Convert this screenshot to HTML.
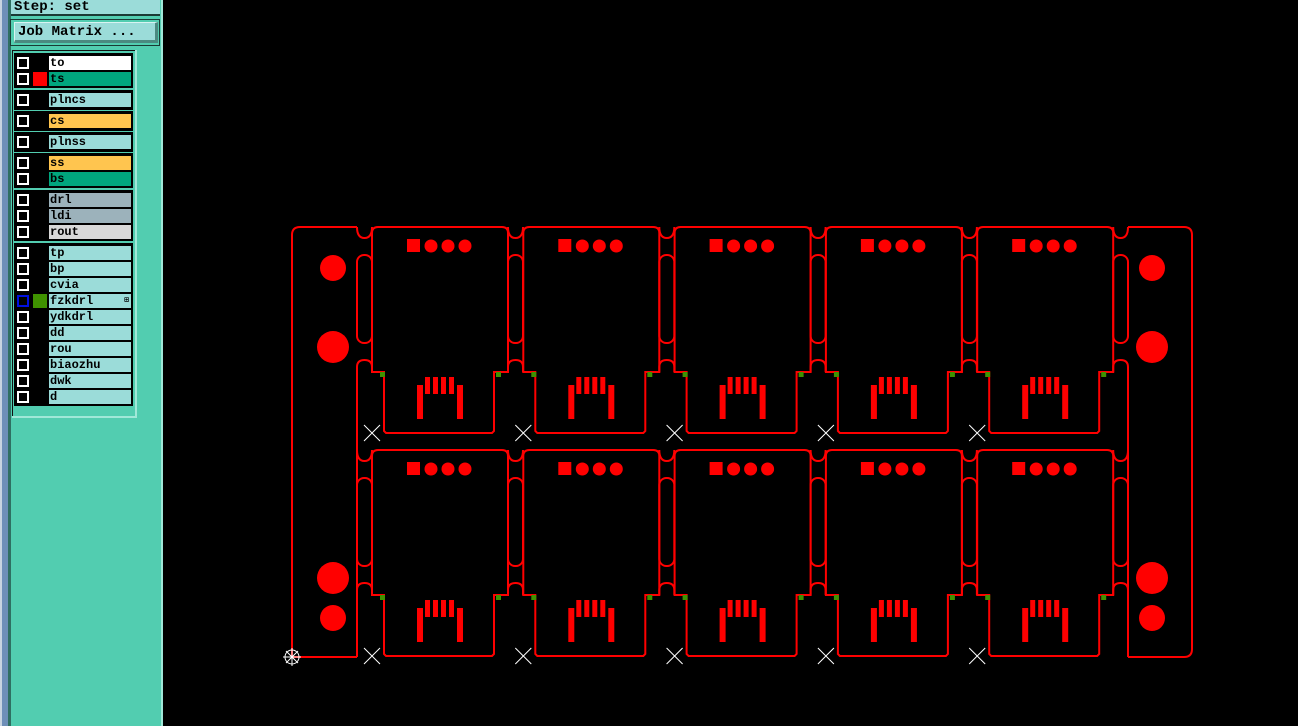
<!DOCTYPE html>
<html><head><meta charset="utf-8"><style>
html,body{margin:0;padding:0;background:#000;width:1298px;height:726px;overflow:hidden;position:relative}
.p{position:absolute}
.txt{font-family:"Liberation Mono",monospace;font-weight:bold;color:#000}
.row{position:absolute;left:15px;width:117px;height:16px;background:#000}
.cb{position:absolute;left:2px;top:2px;width:8px;height:8px;border:2px solid #fff;background:#000}
.sw{position:absolute;left:18px;top:1px;width:14px;height:14px}
.nm{position:absolute;left:34px;top:1px;width:82px;height:14px;background:#9bdcd9;font:bold 12px/14px "Liberation Mono",monospace;padding-left:1px;box-sizing:border-box}
.grp{position:absolute;left:14px;width:119px;background:#000}
</style></head><body>
<!-- left panel -->
<div class="p" style="left:0;top:0;width:10px;height:726px;background:#6e8fb8"></div>
<div class="p" style="left:0;top:0;width:2px;height:726px;background:#c8d4e0"></div>
<div class="p" style="left:8px;top:0;width:3px;height:726px;background:#2f6f62"></div>
<div class="p" style="left:11px;top:0;width:151px;height:726px;background:#52cdb0"></div>
<div class="p" style="left:161px;top:0;width:2px;height:726px;background:#a0e8d8"></div>
<div class="p txt" style="left:11px;top:0;width:149px;height:16px;background:#9bdcd9;border-bottom:2px solid #1a3a34;font-size:14px;line-height:15px;padding-left:3px;box-sizing:border-box">Step: set</div>
<div class="p" style="left:10px;top:19px;width:150px;height:27px;border:1px solid #1a3a34;box-sizing:border-box"></div>
<div class="p txt" style="left:14px;top:22px;width:144px;height:21px;background:#9bdcd9;border-right:3px solid #4a8a80;border-bottom:3px solid #4a8a80;border-top:1px solid #d8f4f2;border-left:1px solid #d8f4f2;box-sizing:border-box;font-size:14px;line-height:18px;padding-left:3px">Job Matrix ...</div>
<div class="p" style="left:12px;top:50px;width:124px;height:367px;border:1px solid #111;box-sizing:border-box;background:#52cdb0"></div>
<div class="p" style="left:135px;top:50px;width:2px;height:367px;background:#a0e8d8"></div>
<div class="p" style="left:12px;top:416px;width:125px;height:2px;background:#a0e8d8"></div>
<div class="grp" style="top:53px;height:35px"></div>
<div class="grp" style="top:90px;height:20px"></div>
<div class="grp" style="top:111px;height:20px"></div>
<div class="grp" style="top:132px;height:20px"></div>
<div class="grp" style="top:153px;height:35px"></div>
<div class="grp" style="top:190px;height:51px"></div>
<div class="grp" style="top:243px;height:163px"></div>

<div class="row" style="top:55px"><div class="cb"></div><div class="nm" style="background:#fff">to</div></div>
<div class="row" style="top:71px"><div class="cb"></div><div class="sw" style="background:#f00"></div><div class="nm" style="background:#00a67e">ts</div></div>
<div class="row" style="top:92px"><div class="cb"></div><div class="nm">plncs</div></div>
<div class="row" style="top:113px"><div class="cb"></div><div class="nm" style="background:#ffc54f">cs</div></div>
<div class="row" style="top:134px"><div class="cb"></div><div class="nm">plnss</div></div>
<div class="row" style="top:155px"><div class="cb"></div><div class="nm" style="background:#ffc54f">ss</div></div>
<div class="row" style="top:171px"><div class="cb"></div><div class="nm" style="background:#00a67e">bs</div></div>
<div class="row" style="top:192px"><div class="cb"></div><div class="nm" style="background:#9cb2bb">drl</div></div>
<div class="row" style="top:208px"><div class="cb"></div><div class="nm" style="background:#9cb2bb">ldi</div></div>
<div class="row" style="top:224px"><div class="cb"></div><div class="nm" style="background:#d8d8d8">rout</div></div>
<div class="row" style="top:245px"><div class="cb"></div><div class="nm">tp</div></div>
<div class="row" style="top:261px"><div class="cb"></div><div class="nm">bp</div></div>
<div class="row" style="top:277px"><div class="cb"></div><div class="nm">cvia</div></div>
<div class="row" style="top:293px"><div class="cb" style="border-color:#0010e0"></div><div class="sw" style="background:#3f9200"></div><div class="nm">fzkdrl<span style="position:absolute;right:2px;top:0;font-size:8px">&#8862;</span></div></div>
<div class="row" style="top:309px"><div class="cb"></div><div class="nm">ydkdrl</div></div>
<div class="row" style="top:325px"><div class="cb"></div><div class="nm">dd</div></div>
<div class="row" style="top:341px"><div class="cb"></div><div class="nm">rou</div></div>
<div class="row" style="top:357px"><div class="cb"></div><div class="nm">biaozhu</div></div>
<div class="row" style="top:373px"><div class="cb"></div><div class="nm">dwk</div></div>
<div class="row" style="top:389px"><div class="cb"></div><div class="nm">d</div></div>

<svg class="p" style="left:0;top:0" width="1298" height="726" id="s" xmlns="http://www.w3.org/2000/svg"></svg>
<script>
(function(){
var s=document.getElementById('s'),o='';
var R='#ff0000';
function P(d){o+='<path d="'+d+'" fill="none" stroke="'+R+'" stroke-width="2"/>';}
var rows=[227,450];
var X=[];for(var i=0;i<5;i++)X.push(372+i*151.3);
// rail outline
P('M357,227 L300,227 Q292,227 292,235 L292,657 L357,657');
P('M1128,227 L1184,227 Q1192,227 1192,235 L1192,649 Q1192,657 1184,657 L1128,657');
P('M357,367 L357,657');P('M1128,367 L1128,657');
rows.forEach(function(T){
 X.forEach(function(x0){
  P('M'+x0+','+(T+145)+' L'+x0+','+(T+6)+' Q'+x0+','+T+' '+(x0+6)+','+T+' L'+(x0+130)+','+T+' Q'+(x0+136)+','+T+' '+(x0+136)+','+(T+6)+' L'+(x0+136)+','+(T+145)+' L'+(x0+122)+','+(T+145)+' L'+(x0+122)+','+(T+204)+' L'+(x0+120)+','+(T+206)+' L'+(x0+14)+','+(T+206)+' L'+(x0+12)+','+(T+204)+' L'+(x0+12)+','+(T+145)+' Z');
  // pads
  o+='<rect x="'+(x0+35)+'" y="'+(T+12)+'" width="13" height="13" fill="'+R+'"/>';
  [59,76,93].forEach(function(d){o+='<circle cx="'+(x0+d)+'" cy="'+(T+19)+'" r="6.5" fill="'+R+'"/>';});
  [53,61,69,77].forEach(function(d){o+='<rect x="'+(x0+d)+'" y="'+(T+150)+'" width="5" height="17" fill="'+R+'"/>';});
  o+='<rect x="'+(x0+45)+'" y="'+(T+158)+'" width="6" height="34" fill="'+R+'"/>';
  o+='<rect x="'+(x0+85)+'" y="'+(T+158)+'" width="6" height="34" fill="'+R+'"/>';
  o+='<rect x="'+(x0+8)+'" y="'+(T+145)+'" width="5" height="5" fill="#3f9200"/>';
  o+='<rect x="'+(x0+124)+'" y="'+(T+145)+'" width="5" height="5" fill="#3f9200"/>';
  // X marker
  var cx=x0,cy=T+206;
  o+='<path d="M'+(cx-8)+','+(cy-8)+' L'+(cx+8)+','+(cy+8)+' M'+(cx+8)+','+(cy-8)+' L'+(cx-8)+','+(cy+8)+'" stroke="#fff" stroke-width="1"/>';
 });
 for(var g=0;g<6;g++){
  var gl=(g==0)?357:X[g-1]+136, gr=(g==5)?1128:gl+15; if(g==0)gr=372;
  var mid=(gl+gr)/2;
  P('M'+gl+','+T+' Q'+gl+','+(T+11)+' '+mid+','+(T+11)+' Q'+gr+','+(T+11)+' '+gr+','+T);
  o+='<rect x="'+gl+'" y="'+(T+28)+'" width="'+(gr-gl)+'" height="88" rx="7" ry="7" fill="none" stroke="'+R+'" stroke-width="2"/>';
  P('M'+gl+','+(T+145)+' L'+gl+','+(T+140)+' Q'+gl+','+(T+133)+' '+mid+','+(T+133)+' Q'+gr+','+(T+133)+' '+gr+','+(T+140)+' L'+gr+','+(T+145));
 }
});
// rail holes
[[333,268,13],[333,347,16],[333,578,16],[333,618,13],[1152,268,13],[1152,347,16],[1152,578,16],[1152,618,13]].forEach(function(c){o+='<circle cx="'+c[0]+'" cy="'+c[1]+'" r="'+c[2]+'" fill="'+R+'"/>';});
// origin
o+='<g stroke="#fff" stroke-width="1" fill="none"><circle cx="292" cy="657" r="7"/><path d="M283,657 L301,657 M292,648 L292,666 M286,651 L298,663 M298,651 L286,663"/></g>';
s.innerHTML=o;
})();
</script>
</body></html>
